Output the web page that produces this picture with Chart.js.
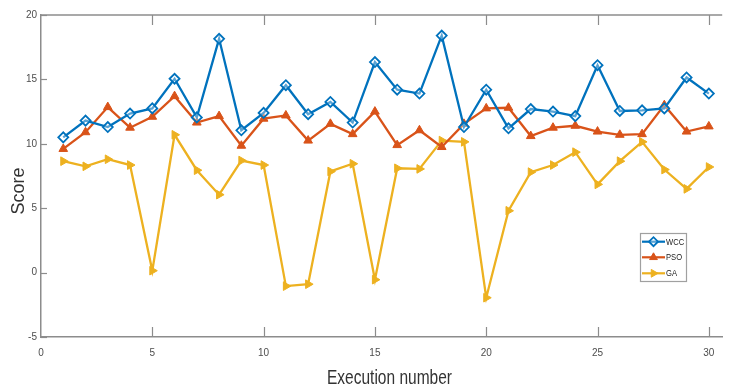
<!DOCTYPE html>
<html>
<head>
<meta charset="utf-8">
<script src="https://cdn.jsdelivr.net/npm/chart.js@4.4.1/dist/chart.umd.min.js"></script>
<style>
  body { margin: 0; background: #fff; }
  #wrap { width: 729px; height: 387px; position: relative; }
</style>
</head>
<body>
<div id="wrap"><canvas id="grafico"></canvas></div>
<script>
// datos
const ejecuciones = Array.from({ length: 30 }, (_, i) => i + 1);
const wcc = [10.5, 11.8, 11.3, 12.35, 12.75, 15.05, 12.05, 18.15, 11.05, 12.4,
             14.55, 12.3, 13.25, 11.65, 16.35, 14.2, 13.9, 18.4, 11.3, 14.2,
             11.2, 12.7, 12.5, 12.15, 16.1, 12.55, 12.6, 12.75, 15.15, 13.9];
const pso = [9.6, 10.9, 12.85, 11.25, 12.1, 13.7, 11.65, 12.15, 9.85, 11.95,
             12.2, 10.25, 11.55, 10.75, 12.5, 9.9, 11.05, 9.75, 11.55, 12.75,
             12.8, 10.6, 11.25, 11.4, 10.95, 10.7, 10.75, 13.0, 10.95, 11.35];
const ga = [8.65, 8.25, 8.8, 8.35, 0.15, 10.7, 7.95, 6.05, 8.7, 8.35,
            -1.05, -0.9, 7.85, 8.45, -0.55, 8.1, 8.05, 10.25, 10.15, -1.95,
            4.8, 7.8, 8.35, 9.35, 6.85, 8.65, 10.15, 8.0, 6.5, 8.2];
const xTicks = [0, 5, 10, 15, 20, 25, 30];
const yTicks = [-5, 0, 5, 10, 15, 20];

const AXIS = '#8c8c8c';
const TXT = '#4d4d4d';

function pts(arr) {
    return arr.map((v, i) => ({ x: ejecuciones[i], y: v }));
}

// texto estrechado (la figura original esta comprimida en horizontal)
function narrowText(ctx, text, x, y, width, rotate) {
    ctx.save();
    ctx.translate(x, y);
    if (rotate) ctx.rotate(-Math.PI / 2);
    const w = ctx.measureText(text).width;
    const s = width ? width / w : 1;
    if (!rotate) ctx.scale(s, 1);
    ctx.fillText(text, 0, 0);
    ctx.restore();
}

const marcoPlugin = {
    id: 'marco',
    afterDraw(chart) {
        const ctx = chart.ctx;
        const a = chart.chartArea;
        const xs = chart.scales.x, ys = chart.scales.y;
        ctx.save();
        ctx.strokeStyle = AXIS;
        ctx.lineWidth = 1.5;
        // borde superior
        ctx.beginPath();
        ctx.moveTo(a.left, a.top);
        ctx.lineTo(a.right, a.top);
        ctx.stroke();
        ctx.lineWidth = 1.2;
        // ticks hacia dentro en x (abajo y arriba)
        xTicks.forEach(v => {
            if (v === xTicks[0]) return;
            const px = Math.round(xs.getPixelForValue(v)) + 0.5;
            ctx.beginPath();
            ctx.moveTo(px, a.bottom); ctx.lineTo(px, a.bottom - 10);
            ctx.moveTo(px, a.top); ctx.lineTo(px, a.top + 10);
            ctx.stroke();
        });
        // ticks hacia dentro en y
        yTicks.forEach(v => {
            const py = Math.round(ys.getPixelForValue(v)) + 0.5;
            ctx.beginPath();
            ctx.moveTo(a.left, py); ctx.lineTo(a.left + 6, py);
            ctx.stroke();
        });

        // titulos de ejes
        ctx.fillStyle = '#333';
        ctx.textBaseline = 'alphabetic';
        ctx.textAlign = 'left';
        ctx.font = '21px "Liberation Sans", Arial, sans-serif';
        narrowText(ctx, 'Execution number', 327, 384, 125, false);
        ctx.font = '18px "Liberation Sans", Arial, sans-serif';
        ctx.textAlign = 'center';
        narrowText(ctx, 'Score', 24, 191, 0, true);

        // leyenda
        const lx = 640, ly = 233, lw = 46, lh = 48;
        ctx.fillStyle = '#fff';
        ctx.fillRect(lx, ly, lw, lh);
        ctx.strokeStyle = '#a0a0a0';
        ctx.lineWidth = 1.2;
        ctx.strokeRect(lx + 0.5, ly + 0.5, lw, lh);
        const filas = [241.7, 257.3, 273.3];
        chart.data.datasets.forEach((ds, i) => {
            const y = filas[i];
            ctx.strokeStyle = ds.borderColor;
            ctx.lineWidth = 2.2;
            ctx.beginPath();
            ctx.moveTo(lx + 2, y); ctx.lineTo(lx + 25, y);
            ctx.stroke();
            if (Chart.helpers && Chart.helpers.drawPoint) {
                ctx.fillStyle = ds.pointBackgroundColor;
                ctx.strokeStyle = ds.borderColor;
                ctx.lineWidth = ds.pointBorderWidth;
                Chart.helpers.drawPoint(ctx, {
                    pointStyle: ds.pointStyle,
                    rotation: ds.pointRotation || 0,
                    radius: 4.5,
                    borderWidth: ds.pointBorderWidth
                }, lx + 13.5, y);
            }
            ctx.fillStyle = '#222';
            ctx.font = '9.5px "Liberation Sans", Arial, sans-serif';
            ctx.textAlign = 'left';
            ctx.textBaseline = 'middle';
            const w = ctx.measureText(ds.label).width;
            narrowText(ctx, ds.label, lx + 26, y + 0.5, w * 0.8, false);
        });
        ctx.restore();
    }
};

const ctxGrafico = document.getElementById('grafico').getContext('2d');
new Chart(ctxGrafico, {
    type: 'line',
    data: {
        datasets: [{
            label: 'WCC',
            data: pts(wcc),
            borderColor: '#0072BD',
            backgroundColor: '#0072BD',
            pointBackgroundColor: 'rgba(255,255,255,0.35)',
            pointBorderColor: '#0072BD',
            pointStyle: 'rectRot',
            pointRadius: 5,
            pointBorderWidth: 1.8,
            borderWidth: 2.3,
            tension: 0
        }, {
            label: 'PSO',
            data: pts(pso),
            borderColor: '#D95319',
            backgroundColor: '#D95319',
            pointBackgroundColor: '#D95319',
            pointBorderColor: '#D95319',
            pointStyle: 'triangle',
            pointRadius: 5,
            pointBorderWidth: 1,
            borderWidth: 2.3,
            tension: 0
        }, {
            label: 'GA',
            data: pts(ga),
            borderColor: '#EDB120',
            backgroundColor: '#EDB120',
            pointBackgroundColor: '#EDB120',
            pointBorderColor: '#EDB120',
            pointStyle: 'triangle',
            pointRotation: 90,
            pointRadius: 5,
            pointBorderWidth: 1,
            borderWidth: 2.3,
            tension: 0
        }]
    },
    options: {
        responsive: true,
        maintainAspectRatio: false,
        animation: false,
        layout: { padding: { top: 15, right: 0, left: 0, bottom: 0 } },
        plugins: {
            legend: { display: false },
            tooltip: { enabled: false }
        },
        scales: {
            x: {
                type: 'linear',
                min: 0,
                max: 30.6,
                afterBuildTicks: scale => { scale.ticks = xTicks.map(v => ({ value: v })); },
                afterFit: scale => { scale.height = 50; },
                grid: { display: false, drawTicks: false },
                border: { display: true, color: AXIS, width: 1.5 },
                ticks: {
                    padding: 10,
                    maxRotation: 0,
                    color: TXT,
                    font: { family: '"Liberation Sans Narrow", "Liberation Sans", Arial', size: 10 }
                }
            },
            y: {
                min: -5,
                max: 20,
                afterBuildTicks: scale => { scale.ticks = yTicks.map(v => ({ value: v })); },
                afterFit: scale => { scale.width = 41; },
                grid: { display: false, drawTicks: false },
                border: { display: true, color: AXIS, width: 1.5 },
                ticks: {
                    padding: 4,
                    color: TXT,
                    font: { family: '"Liberation Sans Narrow", "Liberation Sans", Arial', size: 10 }
                }
            }
        }
    },
    plugins: [marcoPlugin]
});
</script>
</body>
</html>
